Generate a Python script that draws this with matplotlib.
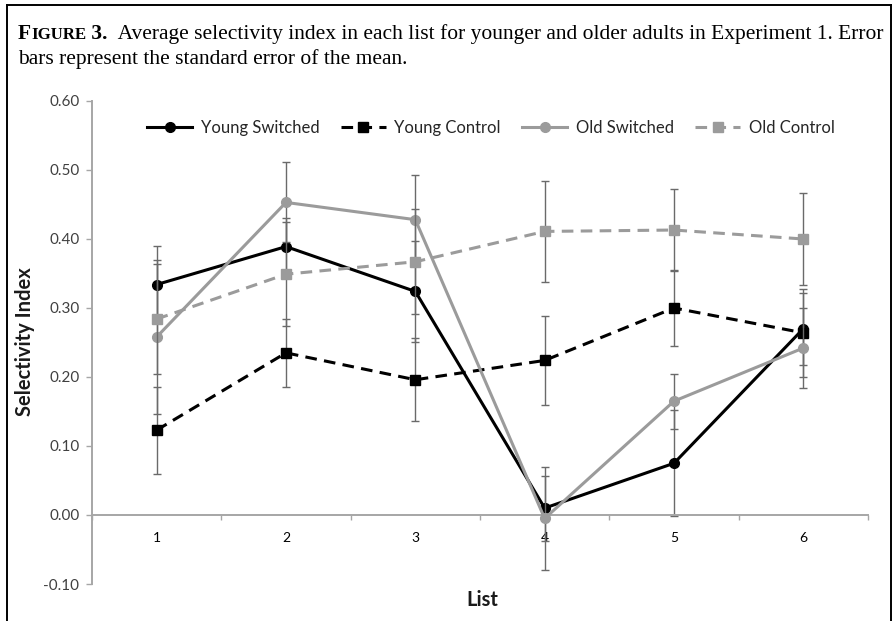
import matplotlib
matplotlib.use("Agg")
import matplotlib.pyplot as plt
from matplotlib.lines import Line2D
import numpy as np

# ---------------- data ----------------
lists = [1, 2, 3, 4, 5, 6]
series_names = ["Young Switched", "Young Control", "Old Switched", "Old Control"]
young_switched = [0.334, 0.389, 0.324, 0.010, 0.075, 0.270]
young_switched_se = [0.056, 0.041, 0.073, 0.047, 0.077, 0.052]
young_control = [0.123, 0.235, 0.196, 0.224, 0.300, 0.264]
young_control_se = [0.063, 0.049, 0.060, 0.064, 0.055, 0.064]
old_switched = [0.258, 0.453, 0.428, -0.005, 0.165, 0.242]
old_switched_se = [0.111, 0.058, 0.065, 0.075, 0.040, 0.058]
old_control = [0.284, 0.349, 0.367, 0.411, 0.413, 0.400]
old_control_se = [0.080, 0.075, 0.076, 0.073, 0.060, 0.066]
y_ticks = [-0.10, 0.00, 0.10, 0.20, 0.30, 0.40, 0.50, 0.60]

plt.rcParams['font.family'] = ['Lato', 'DejaVu Sans']

W, H = 895, 621
fig = plt.figure(figsize=(W / 100, H / 100), dpi=100)
fig.patch.set_facecolor('white')

ax_l, ax_r, ax_t, ax_b = 92, 868, 101, 584
ax = fig.add_axes([ax_l / W, 1 - ax_b / H, (ax_r - ax_l) / W, (ax_b - ax_t) / H])

BLACK = '#000000'
GRAY = '#9b9b9b'
AXGRAY = '#a6a6a6'
ERR = '#6a6a6a'

styles = [
    dict(color=BLACK, ls='-', marker='o'),
    dict(color=BLACK, ls=(0, (3.8, 2.4)), marker='s'),
    dict(color=GRAY, ls='-', marker='o'),
    dict(color=GRAY, ls=(0, (3.8, 2.4)), marker='s'),
]
data = [young_switched, young_control, old_switched, old_control]
ses = [young_switched_se, young_control_se, old_switched_se, old_control_se]

x = np.array(lists)
handles = []
for i, (name, vals, se, st) in enumerate(zip(series_names, data, ses, styles)):
    ax.errorbar(x, vals, yerr=se, fmt='none', ecolor=ERR, elinewidth=1.0,
                capsize=3.2, capthick=1.0, zorder=2 + i)
    h, = ax.plot(x, vals, color=st['color'], ls=st['ls'], lw=2.2,
                 marker=st['marker'], markersize=7,
                 markerfacecolor=st['color'], markeredgecolor=st['color'],
                 zorder=3 + i, label=name)
    handles.append(h)

ax.set_xlim(0.5, 6.5)
ax.set_ylim(-0.10, 0.60)
ax.set_yticks(y_ticks)
ax.set_yticklabels([f"{v:.2f}" for v in y_ticks], color='#404040', fontsize=11)

ax.set_xticks(np.arange(0.5, 7.0, 1.0))
ax.set_xticklabels([])
ax.set_xticks(x, minor=True)
ax.set_xticklabels([str(v) for v in lists], minor=True, color='#404040', fontsize=11)
ax.tick_params(axis='x', which='major', direction='out', length=3.5, color=AXGRAY, width=1)
ax.tick_params(axis='x', which='minor', length=0, pad=12)
ax.tick_params(axis='y', direction='out', length=4, color=AXGRAY, width=1, pad=5)

for s in ['top', 'right']:
    ax.spines[s].set_visible(False)
ax.spines['bottom'].set_position(('data', 0.0))
for s in ['left', 'bottom']:
    ax.spines[s].set_color(AXGRAY)
    ax.spines[s].set_linewidth(1.4)
ax.set_facecolor('none')

fig.text(25 / W, 1 - 342 / H, "Selectivity Index", fontsize=14.5, fontweight='bold',
         color='#1a1a1a', ha='center', va='center', rotation=90)
fig.text(482 / W, 1 - 600 / H, "List", fontsize=14.5, fontweight='bold',
         color='#1a1a1a', ha='center', va='center')

leg = fig.legend(handles=handles, loc='center', bbox_to_anchor=(491 / W, 1 - 128 / H),
                 ncol=4, frameon=False, fontsize=12, handlelength=2.7,
                 handletextpad=0.5, columnspacing=1.3, labelcolor='#262626')

# ---------------- border ----------------
lw_b = 1.4
fig.add_artist(Line2D([7 / W, 7 / W], [0, 1 - 5 / H], color='black', lw=lw_b))
fig.add_artist(Line2D([7 / W, 891 / W], [1 - 5 / H, 1 - 5 / H], color='black', lw=lw_b))
fig.add_artist(Line2D([891 / W, 891 / W], [0, 1 - 5 / H], color='black', lw=lw_b))

# ---------------- caption ----------------
fig.canvas.draw()
renderer = fig.canvas.get_renderer()
serif = ['Liberation Serif', 'DejaVu Serif']


def place_seq(parts, x0, y, size):
    xcur = x0
    arts = []
    for txt, wt, scale in parts:
        t = fig.text(xcur / W, 1 - y / H, txt, fontsize=size * scale, fontweight=wt,
                     family=serif, ha='left', va='baseline', color='black')
        bb = t.get_window_extent(renderer)
        xcur += bb.width
        arts.append(t)
    return arts, xcur


size = 12.5
line1 = [("F", 'bold', 1.0), ("IGURE", 'bold', 0.78), (" 3.", 'bold', 1.0),
         ("  Average selectivity index in each list for younger and older adults in Experiment 1. Error",
          'normal', 1.0)]
arts, xend = place_seq(line1, 18, 38, size)
target = 884
scale_f = (target - 18) / (xend - 18)
for a in arts:
    a.remove()
size = size * scale_f
place_seq(line1, 18, 39, size)
place_seq([("bars represent the standard error of the mean.", 'normal', 1.0)], 18, 64, size)

fig.savefig("out.png", dpi=100, facecolor='white')
